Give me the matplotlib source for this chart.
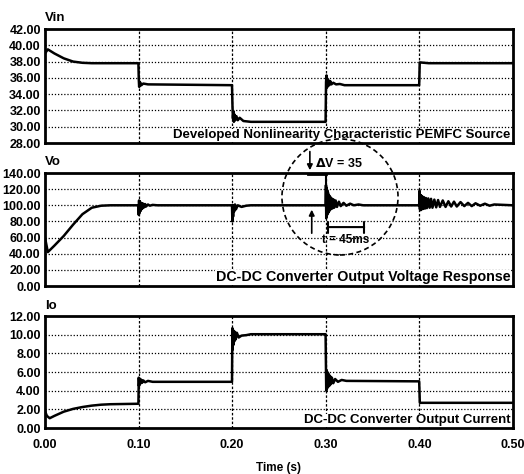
import matplotlib.pyplot as plt
from matplotlib.patches import Ellipse

plt.rcParams['font.family'] = ['Liberation Sans', 'DejaVu Sans']
plt.rcParams['font.weight'] = 'bold'

# Vin: PEMFC source voltage
vin_t = [0.0, 0.003, 0.01, 0.02, 0.03, 0.04, 0.05, 0.0998,
         0.1002, 0.1006, 0.101, 0.1015, 0.102, 0.103, 0.105, 0.11, 0.1998,
         0.2003, 0.2008, 0.2013, 0.2018, 0.2025, 0.2033, 0.2045, 0.206, 0.208, 0.212, 0.22, 0.2998,
         0.3003, 0.3008, 0.3013, 0.3018, 0.3024, 0.303, 0.3038, 0.3048, 0.306, 0.308, 0.311, 0.315, 0.32, 0.3998,
         0.4004, 0.41, 0.5]
vin_v = [39.0, 39.5, 39.0, 38.4, 38.0, 37.85, 37.8, 37.8,
         35.8, 34.9, 35.5, 35.0, 35.4, 35.1, 35.3, 35.2, 35.1,
         32.6, 31.0, 31.9, 30.6, 31.5, 30.8, 31.3, 30.8, 31.1, 30.7, 30.6, 30.6,
         35.5, 36.3, 34.8, 35.9, 35.0, 35.7, 35.1, 35.6, 35.2, 35.4, 35.2, 35.25, 35.1, 35.1,
         37.9, 37.8, 37.8]

# Vo: converter output voltage
vo_t = [0.0, 0.003, 0.01, 0.02, 0.03, 0.04, 0.05, 0.06, 0.07, 0.0998,
        0.1002, 0.1005, 0.1008, 0.1011, 0.1014, 0.1017, 0.102, 0.1025, 0.103, 0.1035, 0.104,
        0.105, 0.106, 0.107, 0.108, 0.11, 0.112, 0.115, 0.12, 0.1998,
        0.2002, 0.2006, 0.201, 0.2015, 0.202, 0.203, 0.204, 0.206, 0.21, 0.215, 0.22, 0.2998,
        0.3002, 0.3005, 0.3008, 0.3011, 0.3015, 0.3019, 0.3023, 0.3028, 0.3033, 0.3039, 0.3045,
        0.3052, 0.306, 0.307, 0.308, 0.309, 0.3105, 0.312, 0.314, 0.316, 0.319, 0.322, 0.326,
        0.33, 0.335, 0.34, 0.3998,
        0.4002, 0.4006, 0.401, 0.4015, 0.402, 0.4026, 0.4032, 0.404, 0.405, 0.406, 0.407, 0.408,
        0.4095, 0.411, 0.4125, 0.414, 0.416, 0.418, 0.42, 0.422, 0.425, 0.428, 0.431, 0.434,
        0.437, 0.44, 0.444, 0.448, 0.452, 0.456, 0.46, 0.465, 0.47, 0.475, 0.48, 0.49, 0.5]
vo_v = [60.0, 42.0, 50.0, 62.0, 76.0, 89.0, 97.0, 99.5, 100.0, 100.0,
        88.0, 106.0, 90.0, 105.0, 92.0, 104.0, 93.0, 103.0, 95.0, 102.5, 96.0,
        102.0, 97.5, 101.5, 98.5, 101.0, 99.5, 100.5, 100.0, 100.0,
        80.0, 96.0, 86.0, 100.0, 92.0, 101.0, 95.0, 100.0, 98.0, 99.5, 100.0, 100.0,
        125.0, 84.0, 122.0, 87.0, 119.0, 89.0, 116.0, 91.0, 113.0, 93.0, 111.0,
        95.0, 109.0, 96.0, 107.5, 97.0, 106.0, 98.0, 104.5, 99.0, 103.0, 99.5, 102.0,
        100.0, 101.0, 100.0, 100.0,
        118.0, 95.0, 113.0, 94.0, 112.0, 95.0, 111.0, 95.5, 110.0, 96.0, 109.0, 96.5,
        108.5, 97.0, 108.0, 97.0, 107.0, 97.5, 106.5, 98.0, 106.0, 98.0, 105.0, 98.5,
        104.5, 98.5, 104.0, 99.0, 103.0, 99.0, 102.5, 99.5, 102.0, 99.5, 101.0, 100.5, 100.0]

# Io: converter output current
io_t = [0.0, 0.002, 0.005, 0.01, 0.02, 0.03, 0.04, 0.05, 0.06, 0.07, 0.0998,
        0.1002, 0.1005, 0.1009, 0.1013, 0.1018, 0.1024, 0.103, 0.1038, 0.105, 0.107, 0.11, 0.115, 0.1998,
        0.2002, 0.2005, 0.2009, 0.2013, 0.2018, 0.2024, 0.203, 0.2038, 0.205, 0.207, 0.21, 0.215, 0.22, 0.2998,
        0.3002, 0.3005, 0.3009, 0.3013, 0.3018, 0.3024, 0.303, 0.3037, 0.3045, 0.3055, 0.3065, 0.308,
        0.31, 0.313, 0.317, 0.322, 0.3998,
        0.4005, 0.5]
io_v = [1.8, 1.3, 1.05, 1.3, 1.75, 2.05, 2.25, 2.4, 2.5, 2.55, 2.6,
        5.4, 4.5, 5.3, 4.7, 5.25, 4.8, 5.15, 4.85, 5.1, 4.9, 5.05, 4.95, 4.95,
        10.7, 8.4, 10.5, 8.9, 10.4, 9.3, 10.3, 9.5, 10.2, 9.7, 9.9, 9.95, 10.05, 10.05,
        6.5, 4.0, 6.2, 4.2, 6.0, 4.4, 5.8, 4.5, 5.6, 4.7, 5.4, 4.8,
        5.25, 4.95, 5.15, 5.05, 5.0,
        2.7, 2.7]

x_ticks = [0.0, 0.1, 0.2, 0.3, 0.4, 0.5]
vin_ticks = [28, 30, 32, 34, 36, 38, 40, 42]
vo_ticks = [0, 20, 40, 60, 80, 100, 120, 140]
io_ticks = [0, 2, 4, 6, 8, 10, 12]

fig = plt.figure(figsize=(5.24, 4.74), dpi=100)
ax1 = fig.add_axes([0.0859, 0.6983, 0.893, 0.2405])
ax2 = fig.add_axes([0.0859, 0.3966, 0.893, 0.2384])
ax3 = fig.add_axes([0.0859, 0.0970, 0.893, 0.2363])


def style(ax, t, v, yticks, name, label, label_size):
    ax.plot(t, v, color='black', lw=1.8)
    ax.set_xlim(0, 0.5)
    ax.set_ylim(yticks[0], yticks[-1])
    ax.set_yticks(yticks)
    ax.set_yticklabels(['%.2f' % y for y in yticks])
    ax.set_xticks(x_ticks)
    for y in yticks[1:-1]:
        ax.axhline(y, color='black', lw=0.9, ls=(0, (1, 1.5)))
    for x in x_ticks[1:-1]:
        ax.axvline(x, color='black', lw=0.9, ls=(0, (2, 1.5)))
    for s in ax.spines.values():
        s.set_linewidth(2)
    ax.tick_params(length=0, labelsize=9, pad=3)
    ax.text(0, 1.04, name, transform=ax.transAxes, ha='left', va='bottom',
            fontsize=9.5, fontweight='bold')
    ax.text(0.995, 0.015, label, transform=ax.transAxes, ha='right', va='bottom',
            fontsize=label_size, fontweight='bold',
            bbox=dict(facecolor='white', edgecolor='none', pad=0.5))


style(ax1, vin_t, vin_v, vin_ticks, 'Vin', 'Developed Nonlinearity Characteristic PEMFC Source', 9.5)
style(ax2, vo_t, vo_v, vo_ticks, 'Vo', 'DC-DC Converter Output Voltage Response', 10.3)
style(ax3, io_t, io_v, io_ticks, 'Io', 'DC-DC Converter Output Current', 9.5)

ax1.set_xticklabels([])
ax2.set_xticklabels([])
ax3.set_xticklabels(['%.2f' % x for x in x_ticks])
ax3.tick_params(axis='x', pad=8)
ax3.set_xlabel('Time (s)', fontsize=8.5, fontweight='bold', labelpad=8)

# annotation on the voltage response
ax2.annotate('', xy=(0.283, 140), xytext=(0.283, 170), annotation_clip=False,
             arrowprops=dict(arrowstyle='-|>', lw=1.2, color='black', mutation_scale=8))
ax2.plot([0.281, 0.300], [139, 139], color='black', lw=2, clip_on=False)
ax2.plot([0.300, 0.300], [139, 122], color='black', lw=1.5)
ax2.text(0.2885, 152, r'$\Delta$V = 35', fontsize=9, fontweight='bold',
         ha='left', va='center', clip_on=False)
ax2.annotate('', xy=(0.285, 98), xytext=(0.285, 62),
             arrowprops=dict(arrowstyle='-|>', lw=1.2, color='black', mutation_scale=8))
ax2.annotate('', xy=(0.299, 73), xytext=(0.344, 73),
             arrowprops=dict(arrowstyle='|-|', lw=1.5, color='black', mutation_scale=4))
ax2.text(0.296, 57, 't = 45ms', fontsize=8.5, fontweight='bold', ha='left', va='center')
ax2.add_patch(Ellipse((0.3152, 110.3), 0.124, 143.7, fill=False, color='black',
                      lw=1.2, ls=(0, (3, 2)), clip_on=False))

fig.savefig('out.png', dpi=100)
